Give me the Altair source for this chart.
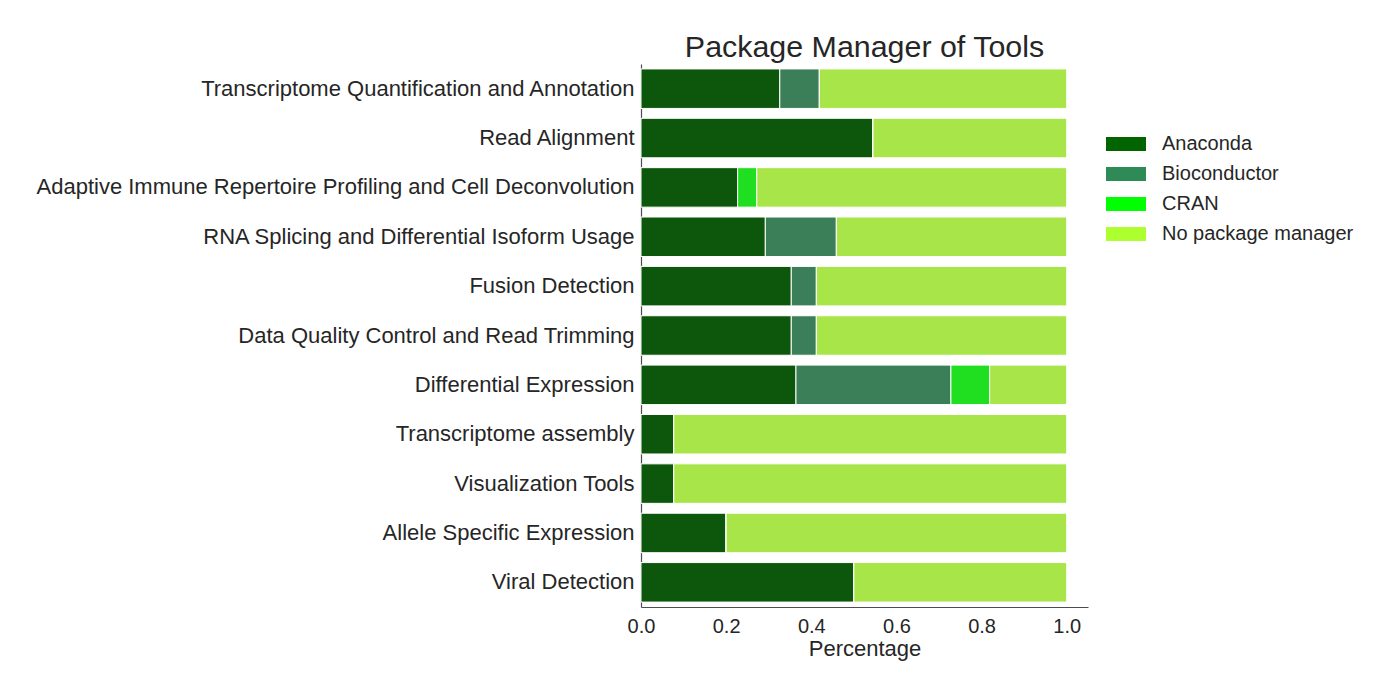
import altair as alt
import pandas as pd

categories = [
    "Transcriptome Quantification and Annotation",
    "Read Alignment",
    "Adaptive Immune Repertoire Profiling and Cell Deconvolution",
    "RNA Splicing and Differential Isoform Usage",
    "Fusion Detection",
    "Data Quality Control and Read Trimming",
    "Differential Expression",
    "Transcriptome assembly",
    "Visualization Tools",
    "Allele Specific Expression",
    "Viral Detection",
]
anaconda = [0.326, 0.545, 0.227, 0.292, 0.353, 0.353, 0.364, 0.077, 0.077, 0.200, 0.500]
bioconductor = [0.093, 0.0, 0.0, 0.167, 0.059, 0.059, 0.364, 0.0, 0.0, 0.0, 0.0]
cran = [0.0, 0.0, 0.045, 0.0, 0.0, 0.0, 0.091, 0.0, 0.0, 0.0, 0.0]
no_pm = [round(1 - a - b - c, 3) for a, b, c in zip(anaconda, bioconductor, cran)]

managers = ["Anaconda", "Bioconductor", "CRAN", "No package manager"]
bar_colors = ["#0c570c", "#3a7f58", "#20df20", "#a7e549"]
legend_colors = ["#006400", "#2e8b57", "#00ff00", "#adff2f"]

rows = []
for i, cat in enumerate(categories):
    for j, (m, vals) in enumerate(zip(managers, [anaconda, bioconductor, cran, no_pm])):
        rows.append({"Tool": cat, "Manager": m, "Percentage": vals[i], "order": j})
df = pd.DataFrame(rows)

FONT = "Liberation Sans"
TXT = "#262626"

x_enc = alt.X(
    "Percentage:Q",
    stack="zero",
    scale=alt.Scale(domain=[0, 1.05], nice=False, zero=True),
    axis=alt.Axis(
        values=[0, 0.2, 0.4, 0.6, 0.8, 1.0], format=".1f", grid=False, ticks=False,
        labelFontSize=20, labelColor=TXT, labelFont=FONT, labelPadding=9,
        title="Percentage", titleFontSize=22, titleColor=TXT, titleFont=FONT,
        titleFontWeight="normal", titlePadding=2,
        domainColor="#4d4d4d", domainWidth=1.2, labelFlush=False,
    ),
)
y_enc = alt.Y(
    "Tool:N",
    sort=categories,
    scale=alt.Scale(paddingInner=0.2, paddingOuter=0.1),
    axis=alt.Axis(
        title=None, ticks=False, grid=False, labelFontSize=22, labelColor=TXT,
        labelFont=FONT, labelPadding=7, labelLimit=700,
        domainColor="#4d4d4d", domainWidth=1.2,
    ),
)

bars = alt.Chart(df).mark_bar(stroke="white", strokeWidth=1).encode(
    x=x_enc,
    y=y_enc,
    color=alt.Color("Manager:N", scale=alt.Scale(domain=managers, range=bar_colors), legend=None),
    order=alt.Order("order:Q"),
)

legend_layer = alt.Chart(df).mark_bar(opacity=0).encode(
    x=alt.X("Percentage:Q", stack="zero"),
    y=alt.Y("Tool:N", sort=categories),
    color=alt.Color(
        "Manager:N",
        scale=alt.Scale(domain=managers, range=legend_colors),
        legend=alt.Legend(
            title=None, orient="none", legendX=465, legendY=60,
            symbolType="M-1,-0.35L1,-0.35L1,0.35L-1,0.35Z", symbolSize=1600,
            symbolOpacity=1, symbolStrokeWidth=0,
            labelFontSize=20, labelColor=TXT, labelFont=FONT, labelOffset=16,
            labelLimit=400, rowPadding=-1,
        ),
    ),
    order=alt.Order("order:Q"),
)

chart = alt.layer(bars, legend_layer).resolve_scale(color="independent").properties(
    width=447,
    height=543,
    background="white",
    title=alt.TitleParams(
        "Package Manager of Tools", fontSize=30.4, font=FONT, color=TXT,
        fontWeight="normal", anchor="middle", offset=1,
    ),
    autosize=alt.AutoSizeParams(type="none"),
    padding={"left": 641, "top": 64, "right": 309, "bottom": 87},
).configure_view(stroke="transparent", strokeWidth=0)

chart.save("out.html", embed_options={"renderer": "svg", "actions": False})
